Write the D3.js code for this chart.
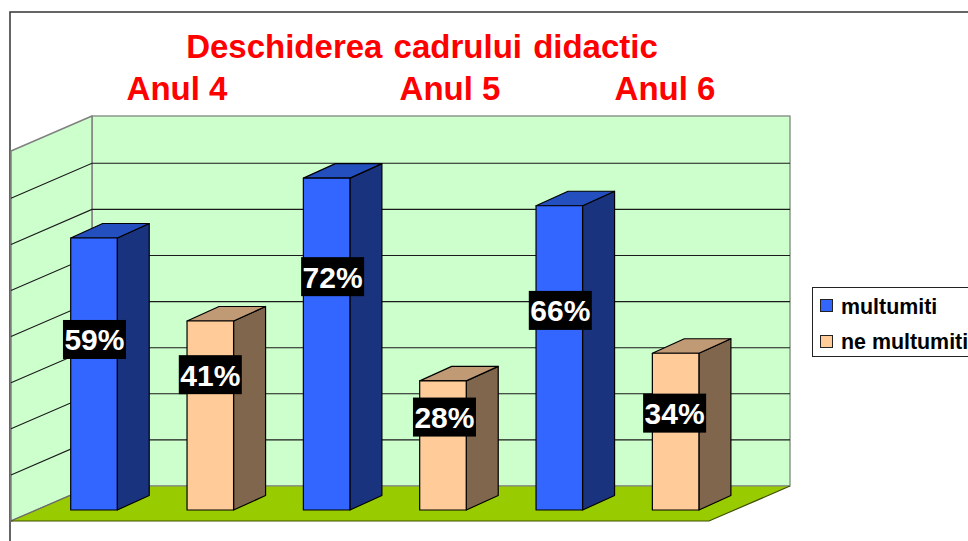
<!DOCTYPE html>
<html><head><meta charset="utf-8">
<script src="https://cdn.jsdelivr.net/npm/d3@7"></script>
<style>html,body{margin:0;padding:0;background:#fff}svg{display:block}text{font-family:"Liberation Sans",Arial,sans-serif;font-weight:bold}</style>
</head><body><svg width="968" height="541"></svg>
<script>
const title = "Deschiderea cadrului didactic";
const categories = ["Anul 4", "Anul 5", "Anul 6"];
const seriesNames = ["multumiti", "ne multumiti"];
const multumiti = [59, 72, 66];
const nemultumiti = [41, 28, 34];
const yTicks = [0, 10, 20, 30, 40, 50, 60, 70, 80];
const frontColors = ["#3366ff", "#ffcc99"];
const topColors = ["#2450bf", "#c09a74"];
const sideColors = ["#19337f", "#80664d"];

const svg = d3.select("svg");
const fl = 11, fr = 709, depthX = 81, depthY = 35, floorFront = 521, wallTopFront = 151;
const barDepthX = 32, barDepthY = 14.5, barOffX = 24.8, barOffY = 11;
// hand-placed label heights (fraction of bar height) and horizontal nudges, in chart order
const labelFrac = [0.627, 0.716, 0.703, 0.72, 0.656, 0.618];
const labelNudge = [0.5, 0, 6, 1.5, 1, -1];

const slots = categories.flatMap(c => seriesNames.map(s => c + "|" + s));
const x = d3.scaleBand().domain(slots).range([fl, fr]).paddingInner(0.6).paddingOuter(0.3);
const y = d3.scaleLinear().domain([0, 80]).range([floorFront, floorFront - 368.8]);

const poly = (pts, fill, stroke, sw) => svg.append("polygon").attr("points", pts.map(p => p.join(",")).join(" "))
  .attr("fill", fill).attr("stroke", stroke).attr("stroke-width", sw).attr("stroke-linejoin", "round");

// frame
svg.append("path").attr("d", "M10,541V12H968").attr("fill", "none").attr("stroke", "#333").attr("stroke-width", 1.5);

// walls and floor
const y0 = y(0), yMax = wallTopFront;
poly([[fl + depthX, yMax - depthY], [fr + depthX, yMax - depthY], [fr + depthX, y0 - depthY], [fl + depthX, y0 - depthY]], "#ccffcc", "#8c968c", 1.5);
poly([[fl, yMax], [fl + depthX, yMax - depthY], [fl + depthX, y0 - depthY], [fl, y0]], "#ccffcc", "#808080", 1.5);
poly([[fl, y0], [fr, y0], [fr + depthX, y0 - depthY], [fl + depthX, y0 - depthY]], "#99cc00", "none", 0);
svg.append("line").attr("x1", fl).attr("x2", fl + depthX).attr("y1", y0).attr("y2", y0 - depthY).attr("stroke", "#6b6b6b").attr("stroke-width", 1.2);
svg.append("line").attr("x1", fl + depthX).attr("x2", fr + depthX).attr("y1", y0 - depthY).attr("y2", y0 - depthY).attr("stroke", "#808080").attr("stroke-width", 1.2);
svg.append("path").attr("d", `M${fl},${y0}H${fr}L${fr + depthX},${y0 - depthY}`).attr("fill", "none").attr("stroke", "#3f4f00").attr("stroke-width", 1.2);

// gridlines
yTicks.slice(1, -1).forEach(t => {
  const gy = y(t);
  svg.append("path").attr("d", `M${fl},${gy}L${fl + depthX},${gy - depthY}H${fr + depthX}`)
    .attr("fill", "none").attr("stroke", "#1a1a1a").attr("stroke-width", 1.1);
});

// bars
const rows = categories.flatMap((c, i) => [
  {slot: c + "|" + seriesNames[0], v: multumiti[i], s: 0},
  {slot: c + "|" + seriesNames[1], v: nemultumiti[i], s: 1}
]);
rows.forEach(d => {
  const l = x(d.slot) + barOffX, w = x.bandwidth();
  const b = y0 - barOffY, t = y(d.v) - barOffY, r = l + w;
  poly([[r, t], [r + barDepthX, t - barDepthY], [r + barDepthX, b - barDepthY], [r, b]], sideColors[d.s], "#000", 1.2);
  poly([[l, t], [l + barDepthX, t - barDepthY], [r + barDepthX, t - barDepthY], [r, t]], topColors[d.s], "#000", 1.2);
  poly([[l, t], [r, t], [r, b], [l, b]], frontColors[d.s], "#000", 1.2);
});
// data labels
rows.forEach((d, i) => {
  const l = x(d.slot) + barOffX, w = x.bandwidth();
  const b = y0 - barOffY, t = y(d.v) - barOffY;
  const cx = l + w / 2 + labelNudge[i], cy = b - (b - t) * labelFrac[i];
  svg.append("rect").attr("x", cx - 31.5).attr("y", cy - 19.5).attr("width", 63).attr("height", 39).attr("fill", "#000");
  svg.append("text").attr("x", cx).attr("y", cy + 11).attr("text-anchor", "middle").attr("fill", "#fff").attr("font-size", 30).text(d.v + "%");
});

// titles
svg.append("text").attr("x", 422).attr("y", 58).attr("text-anchor", "middle").attr("fill", "#ff0000").attr("font-size", 33).attr("word-spacing", 2).text(title);
const catX = [177, 450, 665];
categories.forEach((c, i) => svg.append("text").attr("x", catX[i]).attr("y", 100).attr("text-anchor", "middle").attr("fill", "#ff0000").attr("font-size", 33).text(c));

// legend
svg.append("rect").attr("x", 812.5).attr("y", 287.5).attr("width", 170).attr("height", 69).attr("fill", "#fff").attr("stroke", "#222").attr("stroke-width", 1);
seriesNames.forEach((n, i) => {
  const ly = 306 + i * 36;
  svg.append("rect").attr("x", 820.5).attr("y", ly - 6.5).attr("width", 12).attr("height", 12).attr("fill", frontColors[i]).attr("stroke", "#222");
  svg.append("text").attr("x", 841).attr("y", 314 + i * 34.5).attr("fill", "#000").attr("font-size", 21.4).text(n);
});
</script></body></html>
